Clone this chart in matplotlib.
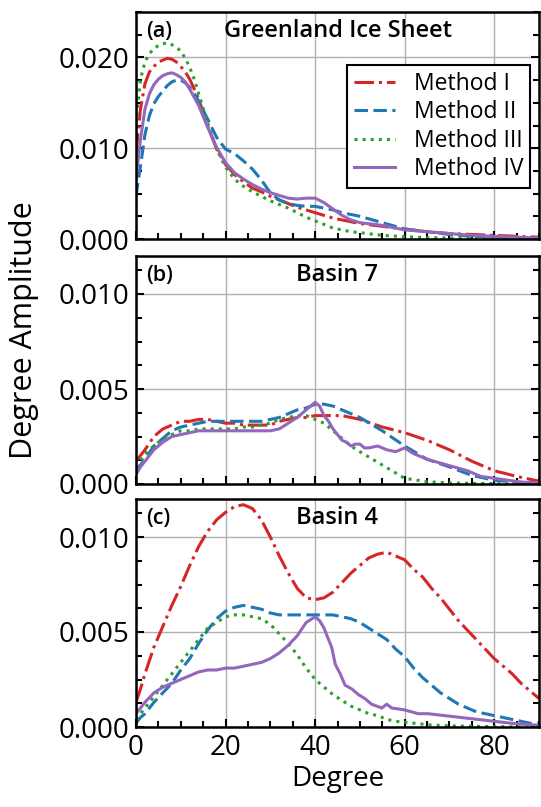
import matplotlib
matplotlib.use("Agg")
import matplotlib.pyplot as plt
from matplotlib.ticker import MultipleLocator

plt.rcParams['font.family'] = ['Open Sans', 'DejaVu Sans']

labels = ["Method I", "Method II", "Method III", "Method IV"]
colors = ["#d62728", "#1f77b4", "#2ca02c", "#9467bd"]
dash_patterns = [[6.4, 1.6, 1.0, 1.6], [4.4, 1.8], [1.0, 1.65], None]

# ---------------- Panel (a) Greenland Ice Sheet ----------------
deg_a = [0, 1, 2, 3, 4, 5, 6, 7, 8, 9, 10, 11, 12, 13, 14,
         16, 18, 20, 22, 24, 26, 28, 30, 32, 34, 36, 38, 40, 42, 44, 46, 48, 50,
         55, 60, 65, 70, 75, 80, 85, 90]
a_m1 = [0.0095, 0.0143, 0.0171, 0.0184, 0.0190, 0.0195, 0.0197, 0.0199, 0.0198, 0.0195, 0.0190, 0.0184, 0.0176, 0.0165, 0.0154,
        0.0125, 0.0099, 0.0082, 0.0071, 0.0063, 0.0056, 0.0052, 0.0047, 0.0043, 0.0039, 0.0035, 0.0032, 0.0029, 0.0026, 0.0023, 0.0021, 0.0019, 0.0017,
        0.0014, 0.0011, 0.0008, 0.0006, 0.0005, 0.0004, 0.0003, 0.0002]
a_m2 = [0.0047, 0.0080, 0.0115, 0.0136, 0.0149, 0.0157, 0.0163, 0.0169, 0.0173, 0.0175, 0.0175, 0.0172, 0.0167, 0.0160, 0.0152,
        0.0132, 0.0112, 0.0099, 0.0094, 0.0086, 0.0077, 0.0065, 0.0051, 0.0043, 0.0039, 0.0037, 0.0036, 0.0036, 0.0034, 0.0032, 0.0029, 0.0027, 0.0025,
        0.0018, 0.0011, 0.0008, 0.0005, 0.0003, 0.0002, 0.0001, 0.0001]
a_m3 = [0.0127, 0.0176, 0.0195, 0.0204, 0.0210, 0.0213, 0.0215, 0.0216, 0.0214, 0.0211, 0.0207, 0.0199, 0.0189, 0.0176, 0.0160,
        0.0128, 0.0099, 0.0079, 0.0066, 0.0058, 0.0052, 0.0047, 0.0042, 0.0038, 0.0034, 0.0029, 0.0024, 0.0020, 0.0016, 0.0012, 0.0010, 0.0008, 0.0007,
        0.0004, 0.00025, 0.00015, 0.0001, 0.00008, 0.00005, 0.00003, 0.00002]
a_m4 = [0.0066, 0.0110, 0.0143, 0.0160, 0.0170, 0.0176, 0.0180, 0.0182, 0.0183, 0.0181, 0.0178, 0.0173, 0.0165, 0.0156, 0.0147,
        0.0123, 0.0101, 0.0084, 0.0073, 0.0066, 0.0060, 0.0055, 0.0051, 0.0048, 0.0045, 0.0044, 0.0045, 0.0045, 0.0040, 0.0033, 0.0026, 0.0021, 0.0018,
        0.0015, 0.0010, 0.0008, 0.0006, 0.0004, 0.0003, 0.0002, 0.0001]

# ---------------- Panel (b) Basin 7 ----------------
deg_b = [0, 1, 2, 4, 6, 8, 10, 12, 14, 16, 18, 20, 22, 24, 26, 28, 30, 32, 34, 36, 38, 40,
         42, 44, 46, 48, 50, 55, 60, 65, 70, 75, 80, 85, 90]
b_m1 = [0.0012, 0.0015, 0.0018, 0.0025, 0.0029, 0.0031, 0.0033, 0.0033, 0.0034, 0.0034, 0.0033, 0.0032, 0.0032, 0.0031, 0.0031, 0.0031, 0.0031, 0.0033, 0.0034, 0.0035, 0.0035, 0.0036,
        0.0036, 0.0036, 0.0036, 0.0035, 0.0034, 0.0030, 0.0027, 0.0023, 0.0018, 0.0012, 0.0007, 0.0004, 0.00015]
b_m2 = [0.0007, 0.0010, 0.0013, 0.0020, 0.0024, 0.0028, 0.0030, 0.0031, 0.0032, 0.0033, 0.0033, 0.0033, 0.0033, 0.0033, 0.0033, 0.0033, 0.0034, 0.0035, 0.0037, 0.0039, 0.0040, 0.0042,
        0.0042, 0.0041, 0.0039, 0.0037, 0.0035, 0.0028, 0.0020, 0.0013, 0.0009, 0.00045, 0.0002, 0.0001, 0.00005]
b_m3 = [0.0009, 0.0012, 0.0016, 0.0020, 0.0024, 0.0026, 0.0028, 0.0028, 0.0029, 0.0029, 0.0029, 0.0029, 0.0029, 0.0030, 0.0030, 0.0031, 0.0032, 0.0034, 0.0035, 0.0036, 0.0036, 0.0034,
        0.0032, 0.0028, 0.0024, 0.0020, 0.0017, 0.0010, 0.0003, 0.00012, 0.00006, 0.00003, 0.00002, 0.00001, 0.0]
deg_b4 = [0, 1, 2, 4, 6, 8, 10, 12, 14, 18, 22, 26, 30, 32, 34, 36, 38, 40, 41, 42, 43, 44, 45, 46, 47, 48,
          49, 50, 51, 52, 54, 56, 58, 60, 62, 65, 68, 71, 74, 77, 80, 83, 86, 90]
b_m4 = [0.0005, 0.0009, 0.0012, 0.0018, 0.0022, 0.0025, 0.0026, 0.0027, 0.0028, 0.0028, 0.0028, 0.0028, 0.0028, 0.0029, 0.0032, 0.0035, 0.0039, 0.0043, 0.0041, 0.0036, 0.0033, 0.0029, 0.0026, 0.0023, 0.0022, 0.0020,
        0.0021, 0.0021, 0.0019, 0.0019, 0.0020, 0.0018, 0.0017, 0.0019, 0.0016, 0.0013, 0.0011, 0.0009, 0.0007, 0.0004, 0.0003, 0.0002, 0.0001, 0.00006]

# ---------------- Panel (c) Basin 4 ----------------
deg_c = [0, 1, 2, 4, 6, 8, 10, 12, 14, 16, 18, 20, 22, 24, 26, 28, 30, 32, 34, 36, 38, 40, 42, 44,
         46, 48, 50, 52, 54, 56, 58, 60, 62, 64, 66, 68, 70, 72, 74, 76, 78, 80, 82, 84, 86, 88, 90]
c_m1 = [0.0013, 0.0020, 0.0028, 0.0042, 0.0053, 0.0064, 0.0074, 0.0085, 0.0095, 0.0103, 0.0109, 0.0113, 0.0116, 0.0117, 0.0115, 0.0109, 0.0100, 0.0090, 0.0081, 0.0073, 0.0068, 0.0067, 0.0068, 0.0071,
        0.0076, 0.0081, 0.0085, 0.0089, 0.0091, 0.0092, 0.0090, 0.0088, 0.0083, 0.0079, 0.0073, 0.0068, 0.0062, 0.0056, 0.0051, 0.0046, 0.0041, 0.0036, 0.0032, 0.0028, 0.0023, 0.0019, 0.0015]
c_m2 = [0.0002, 0.0005, 0.0007, 0.0013, 0.0018, 0.0023, 0.0030, 0.0036, 0.0044, 0.0051, 0.0057, 0.0061, 0.0063, 0.0064, 0.0063, 0.0062, 0.0060, 0.0059, 0.0059, 0.0059, 0.0059, 0.0059, 0.0059, 0.0059,
        0.0058, 0.0057, 0.0055, 0.0052, 0.0049, 0.0046, 0.0041, 0.0037, 0.0031, 0.0026, 0.0022, 0.0018, 0.0015, 0.0012, 0.0010, 0.0008, 0.0007, 0.0006, 0.0005, 0.0004, 0.0003, 0.0002, 0.0002]
c_m3 = [0.0004, 0.0007, 0.0010, 0.0016, 0.0022, 0.0028, 0.0034, 0.0040, 0.0046, 0.0052, 0.0055, 0.0058, 0.0059, 0.0059, 0.0058, 0.0057, 0.0054, 0.0049, 0.0044, 0.0038, 0.0031, 0.0025, 0.0021, 0.0017,
        0.0014, 0.0011, 0.0009, 0.0007, 0.0006, 0.0004, 0.0003, 0.00025, 0.0002, 0.00015, 0.0001, 0.00008, 0.00006, 0.00005, 0.00004, 0.00003, 0.00003, 0.00002, 0.00002, 0.00001, 0.00001, 0.00001, 0.0]
deg_c4 = [0, 1, 2, 4, 6, 8, 10, 12, 14, 16, 18, 20, 22, 24, 26, 28, 30, 32, 34, 36, 38, 40, 41, 42, 43,
          43.7, 44.5, 45.6, 46.7, 48.2, 49.7, 51.1, 52.6, 54.9, 56, 57.1, 60, 63, 65.2, 68.9, 72.6, 76.3, 80, 83.7, 86, 88, 90]
c_m4 = [0.0007, 0.0010, 0.0013, 0.0018, 0.0021, 0.0023, 0.0025, 0.0027, 0.0029, 0.0030, 0.0030, 0.0031, 0.0031, 0.0032, 0.0033, 0.0034, 0.0036, 0.0039, 0.0043, 0.0048, 0.0055, 0.0058, 0.0056, 0.0052, 0.0046,
        0.0042, 0.0033, 0.0028, 0.0022, 0.0020, 0.0017, 0.0015, 0.0012, 0.0010, 0.0012, 0.0010, 0.0009, 0.0007, 0.0007, 0.0006, 0.0005, 0.0004, 0.0003, 0.0002, 0.00015, 0.00012, 0.0001]

panels = [
    ("(a)", "Greenland Ice Sheet", [(deg_a, a_m1), (deg_a, a_m2), (deg_a, a_m3), (deg_a, a_m4)],
     0.025, [0.000, 0.010, 0.020], 0.0025),
    ("(b)", "Basin 7", [(deg_b, b_m1), (deg_b, b_m2), (deg_b, b_m3), (deg_b4, b_m4)],
     0.012, [0.000, 0.005, 0.010], 0.00125),
    ("(c)", "Basin 4", [(deg_c, c_m1), (deg_c, c_m2), (deg_c, c_m3), (deg_c4, c_m4)],
     0.012, [0.000, 0.005, 0.010], 0.00125),
]

W, H = 541, 807
fig = plt.figure(figsize=(W / 100, H / 100), dpi=100)
boxes = [(12, 239), (256, 484), (499, 727)]
left, right = 136, 539

axes = []
for i, ((tag, title, series, ytop, yticks, yminor), (t, b)) in enumerate(zip(panels, boxes)):
    ax = fig.add_axes([left / W, 1 - b / H, (right - left) / W, (b - t) / H])
    axes.append(ax)
    for (x, y), lab, c, dp in zip(series, labels, colors, dash_patterns):
        line, = ax.plot(x, y, '-', color=c, lw=2.2, label=lab)
        if dp is not None:
            line.set_dashes(dp)
    ax.set_xlim(0, 90)
    ax.set_ylim(0, ytop)
    ax.set_yticks(yticks)
    ax.set_yticklabels([f"{v:.3f}" for v in yticks])
    ax.yaxis.set_minor_locator(MultipleLocator(yminor))
    ax.set_xticks([0, 20, 40, 60, 80])
    ax.xaxis.set_minor_locator(MultipleLocator(5))
    ax.grid(True, which='major', color='#b0b0b0', lw=1.0)
    ax.set_axisbelow(True)
    ax.tick_params(which='both', direction='in', left=True, right=True, top=False, bottom=True,
                   labelsize=20, width=1.5, pad=5)
    ax.tick_params(which='major', length=6)
    ax.tick_params(which='minor', length=4)
    for s in ax.spines.values():
        s.set_linewidth(1.8)
    if i < 2:
        ax.tick_params(labelbottom=False)
    ax.text(0.025, 0.915, tag, transform=ax.transAxes, fontsize=15.5, fontweight='semibold',
            ha='left', va='center')
    ax.text(0.5, 0.915, title, transform=ax.transAxes, fontsize=17, fontweight='semibold',
            ha='center', va='center')

leg = axes[0].legend(loc='upper right', bbox_to_anchor=(0.978, 0.766), borderaxespad=0,
                     fontsize=16.5, fancybox=False, edgecolor='black', framealpha=1,
                     handlelength=1.8, handletextpad=0.8, labelspacing=0.19,
                     borderpad=0.3)
leg.get_frame().set_linewidth(1.5)

axes[2].set_xlabel("Degree", fontsize=20, labelpad=2)
fig.text(24 / W, 1 - 330 / H, "Degree Amplitude", rotation=90, fontsize=22,
         ha='center', va='center')

fig.savefig("out.png", dpi=100)
